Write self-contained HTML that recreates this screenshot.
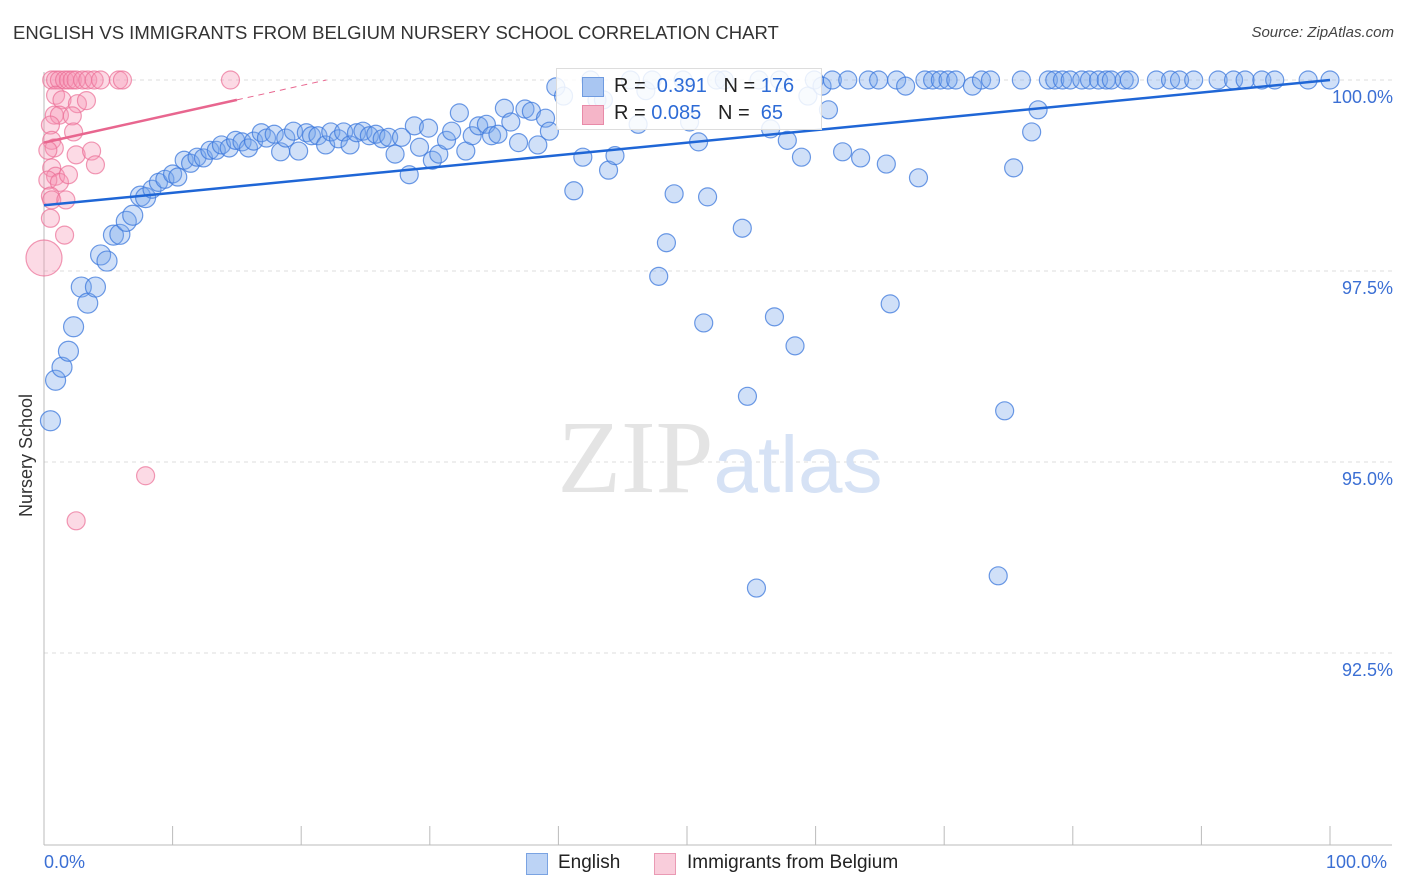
<!DOCTYPE html>
<html><head><meta charset="utf-8"><style>
body{margin:0;background:#fff;font-family:"Liberation Sans",sans-serif;}
#wrap{position:relative;width:1406px;height:892px;overflow:hidden;}
.t{position:absolute;white-space:nowrap;}
</style></head><body>
<div id="wrap">
<div class="t" style="left:13px;top:22px;font-size:18.5px;color:#333;">ENGLISH VS IMMIGRANTS FROM BELGIUM NURSERY SCHOOL CORRELATION CHART</div>
<div class="t" style="right:12px;top:24px;font-size:15px;color:#444;font-style:italic;">Source: ZipAtlas.com</div>
<svg id="svg" width="1406" height="892" style="position:absolute;left:0;top:0"></svg>
</div>
<script>
const blueX=[0.5,0.9,1.4,1.9,2.3,2.9,3.4,4.0,4.4,4.9,5.4,5.9,6.4,6.9,7.5,7.9,8.4,8.9,9.4,10.0,10.4,10.9,11.4,11.9,12.4,12.9,13.4,13.8,14.4,14.9,15.4,15.9,16.3,16.9,17.3,17.9,18.4,18.8,19.4,19.8,20.4,20.8,21.3,21.9,22.3,22.9,23.3,23.8,24.3,24.8,25.3,25.8,26.3,26.8,27.3,27.8,28.4,28.8,29.2,29.9,30.2,30.7,31.3,31.7,32.3,32.8,33.3,33.8,34.4,34.8,35.3,35.8,36.3,36.9,37.4,37.9,38.4,39.0,39.3,39.8,40.4,41.2,41.9,42.5,43.0,43.5,43.9,44.4,45.6,46.2,46.8,47.3,47.8,48.4,49.0,49.7,50.2,50.9,51.3,51.6,52.3,52.9,54.3,54.7,55.4,55.6,56.5,56.8,57.2,57.8,58.4,58.9,59.4,59.9,60.5,61.0,61.3,62.1,62.5,63.5,64.1,64.9,65.5,65.8,66.3,67.0,68.0,68.5,69.1,69.7,70.3,70.9,72.2,72.9,73.6,74.2,74.7,75.4,76.0,76.8,77.3,78.1,78.6,79.2,79.8,80.7,81.3,82.0,82.6,83.0,84.0,84.4,86.5,87.6,88.3,89.4,91.3,92.5,93.4,94.7,95.7,98.3,100];
const blueY=[95.54,96.07,96.24,96.45,96.77,97.29,97.08,97.29,97.71,97.63,97.97,97.98,98.15,98.23,98.48,98.46,98.57,98.66,98.70,98.77,98.73,98.95,98.91,98.99,98.98,99.08,99.08,99.15,99.11,99.21,99.19,99.11,99.20,99.31,99.24,99.29,99.06,99.24,99.33,99.07,99.31,99.27,99.27,99.15,99.32,99.23,99.32,99.15,99.31,99.33,99.27,99.29,99.23,99.25,99.03,99.25,98.76,99.40,99.12,99.37,98.95,99.03,99.21,99.33,99.57,99.07,99.27,99.40,99.42,99.27,99.29,99.63,99.45,99.18,99.62,99.59,99.15,99.50,99.33,99.91,99.79,98.55,98.99,100,99.74,99.74,98.82,99.01,100,99.42,99.86,100,97.43,97.87,98.51,100,99.45,99.19,96.82,98.47,100,100,98.06,95.86,93.35,100,99.36,96.90,100,99.21,96.52,98.99,99.79,100,99.92,99.61,100,99.06,100,98.98,100,100,98.90,97.07,100,99.92,98.72,100,100,100,100,100,99.92,100,100,93.51,95.67,98.85,100,99.32,99.61,100,100,100,100,100,100,100,100,100,100,100,100,100,100,100,100,100,100,100,100,100,100];
const pinkX=[0.6,0.9,1.2,1.6,1.9,2.2,2.5,3.0,3.4,3.9,4.4,5.8,6.1,14.5,0.9,1.4,2.6,3.3,0.8,1.2,2.2,0.5,2.3,0.6,0.8,0.3,2.5,3.7,4.0,0.6,0.9,0.3,1.2,1.9,0.5,0.6,1.7,0.5,1.6,0,7.9,2.5];
const pinkY=[100,100,100,100,100,100,100,100,100,100,100,100,100,100,99.80,99.74,99.69,99.73,99.54,99.54,99.53,99.41,99.32,99.21,99.11,99.08,99.02,99.07,98.89,98.85,98.74,98.69,98.66,98.76,98.48,98.43,98.43,98.19,97.97,97.67,94.82,94.23];
const pinkWeight=[1,1,1,1,1,1,1,1,1,1,1,1,1,1,1,1,1,1,1,1,1,1,1,1,1,1,1,1,1,1,1,1,1,1,1,1,1,1,1,4,1,1];
const blueTrend=[98.36,100];
const pinkTrend=[99.18,99.74];
const yTicks=[100,97.5,95,92.5];
const yTickLabels=["100.0%","97.5%","95.0%","92.5%"];
const xTickVals=[0,10,20,30,40,50,60,70,80,90,100];

const X0=44,X1=1330,Y100=80,PX=76.4;
const sx=v=>X0+(X1-X0)*v/100;
const sy=v=>Y100+(100-v)*PX;
const svg=document.getElementById('svg');
const NS='http://www.w3.org/2000/svg';
function mk(tag,attrs){const e=document.createElementNS(NS,tag);for(const k in attrs)e.setAttribute(k,attrs[k]);svg.appendChild(e);return e;}

yTicks.forEach((v,i)=>{
 const g=mk('line',{x1:X0,x2:1392,y1:sy(v),y2:sy(v),stroke:'#ddd','stroke-dasharray':'4,4'});
 
 
 const t=mk('text',{x:1393,y:sy(v)+23,'text-anchor':'end','font-size':18,fill:'#3b6fd4','font-family':'Liberation Sans, sans-serif'});
 t.textContent=yTickLabels[i];
 
 
});
const ax=mk('line',{x1:X0,x2:1392,y1:845,y2:845,stroke:'#bbb'});


const ay=mk('line',{x1:X0,x2:X0,y1:72,y2:845,stroke:'#bbb'});


xTickVals.forEach(v=>{
 const l=mk('line',{x1:sx(v),x2:sx(v),y1:826,y2:845,stroke:'#bbb'});
 
 
});
const wm=mk('text',{x:720,y:492,'text-anchor':'middle','font-size':104,fill:'#e4e4e4','font-family':'Liberation Serif, serif'});
wm.innerHTML='ZIP<tspan fill="#d6e2f5" font-family="Liberation Sans, sans-serif" font-size="80">atlas</tspan>';



blueX.forEach((x,i)=>{
 const c=mk('circle',{cx:sx(x),cy:sy(blueY[i]),r:x<8?10:9,fill:'rgba(120,165,235,0.35)',stroke:'rgba(60,120,220,0.75)','stroke-width':1.2});
 
 
});
pinkX.forEach((x,i)=>{
 const c=mk('circle',{cx:sx(x),cy:sy(pinkY[i]),r:pinkWeight[i]>1?18:9,fill:'rgba(245,150,180,0.35)',stroke:'rgba(235,110,150,0.7)','stroke-width':1.2});
 
 
});
const bl=mk('line',{x1:sx(0),y1:sy(blueTrend[0]),x2:sx(100),y2:sy(blueTrend[1]),stroke:'#1f66d6','stroke-width':2.5});


const slope=(pinkTrend[1]-pinkTrend[0])/15;
const xEnd=(100-pinkTrend[0])/slope;
const pl=mk('line',{x1:sx(0),y1:sy(pinkTrend[0]),x2:sx(15),y2:sy(pinkTrend[1]),stroke:'#e8668f','stroke-width':2.5});


const pd=mk('line',{x1:sx(15),y1:sy(pinkTrend[1]),x2:sx(xEnd),y2:sy(100),stroke:'#e8668f','stroke-width':1,'stroke-dasharray':'6,5'});


</script>
<div class="t" style="left:-35px;top:445px;font-size:18px;color:#333;transform:rotate(-90deg);">Nursery School</div>
<div class="t" style="left:44px;top:852px;font-size:18px;color:#3b6fd4;">0.0%</div>
<div class="t" style="left:1326px;top:852px;font-size:18px;color:#3b6fd4;">100.0%</div>
<div style="position:absolute;left:556px;top:68px;width:264px;height:60px;background:rgba(255,255,255,0.85);border:1px solid #ddd;font-size:20px;color:#222;">
 <div style="position:absolute;left:25px;top:8px;width:20px;height:18px;background:#a9c6f2;border:1px solid #6f9be0"></div>
 <div class="t" style="left:57px;top:6px;">R = &nbsp;<span style="color:#2d6bd6">0.391</span>&nbsp;&nbsp; N = <span style="color:#2d6bd6">176</span></div>
 <div style="position:absolute;left:25px;top:36px;width:20px;height:18px;background:#f5b5c8;border:1px solid #e88aa8"></div>
 <div class="t" style="left:57px;top:33px;">R = <span style="color:#2d6bd6">0.085</span>&nbsp;&nbsp; N = &nbsp;<span style="color:#2d6bd6">65</span></div>
</div>
<div style="position:absolute;left:526px;top:852px;font-size:19px;color:#222;">
 <div style="position:absolute;left:0;top:1px;width:20px;height:20px;background:#bcd3f5;border:1px solid #7aa3e2"></div>
 <div class="t" style="left:32px;top:0;">English</div>
 <div style="position:absolute;left:128px;top:1px;width:20px;height:20px;background:#f9cddb;border:1px solid #ea9ab4"></div>
 <div class="t" style="left:161px;top:0;">Immigrants from Belgium</div>
</div>
</body></html>
